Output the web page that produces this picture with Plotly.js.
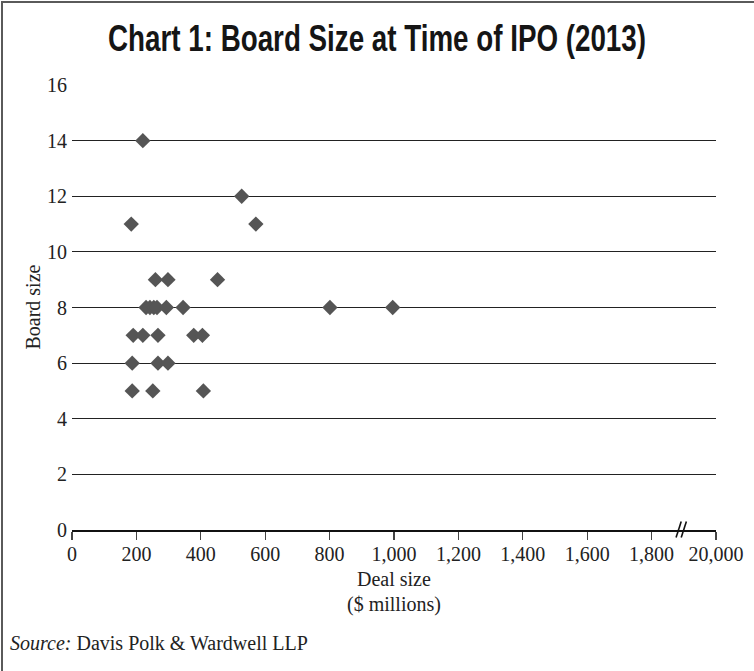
<!DOCTYPE html>
<html>
<head>
<meta charset="utf-8">
<script src="https://cdn.plot.ly/plotly-3.0.1.min.js"></script>
<style>
html,body{margin:0;padding:0;background:#fff;}
#wrap{position:relative;width:754px;height:671px;overflow:hidden;}
#chart{position:absolute;left:0;top:0;width:754px;height:671px;}
#frame{position:absolute;left:1px;top:1px;width:800px;height:700px;border-left:2px solid #5a5a5a;border-top:2px solid #5a5a5a;pointer-events:none;}
</style>
</head>
<body>
<div id="wrap"><div id="chart"></div><div id="frame"></div></div>
<script>
// Deal size ($ millions) and board size for 2013 IPOs
const dealSize = [220, 527, 184, 571, 259, 298, 452, 230, 242, 254, 264, 293, 345, 801, 996, 190, 220, 267, 378, 405, 187, 267, 298, 187, 251, 408];
const boardSize = [14, 12, 11, 11, 9, 9, 9, 8, 8, 8, 8, 8, 8, 8, 8, 7, 7, 7, 7, 7, 6, 6, 6, 5, 5, 5];
const xTickVals = [0, 200, 400, 600, 800, 1000, 1200, 1400, 1600, 1800, 2000];
const xTickText = ['0', '200', '400', '600', '800', '1,000', '1,200', '1,400', '1,600', '1,800', '20,000'];
const yTickVals = [0, 2, 4, 6, 8, 10, 12, 14, 16];
const breakAt = 1898;

const serif = 'Liberation Serif, Times New Roman, serif';

const trace = {
  type: 'scatter', mode: 'markers',
  x: dealSize, y: boardSize,
  marker: {symbol: 'diamond', size: 11.8, color: '#555555', line: {width: 0}},
  cliponaxis: false, hoverinfo: 'skip'
};

const layout = {
  width: 754, height: 671,
  margin: {l: 72, r: 38, t: 85, b: 141},
  paper_bgcolor: '#ffffff', plot_bgcolor: '#ffffff',
  showlegend: false,
  font: {family: serif, size: 20, color: '#222'},
  title: {
    text: 'Chart 1: Board Size at Time of IPO (2013)',
    font: {family: 'Liberation Sans, Arial, sans-serif', size: 36, weight: 'bold', color: '#151515'},
    x: 0.5, xanchor: 'center', y: 0.943, yanchor: 'middle'
  },
  xaxis: {
    range: [0, 2000], tickmode: 'array', tickvals: xTickVals, ticktext: xTickText,
    showgrid: false, zeroline: false,
    showline: true, linecolor: '#111', linewidth: 2.2,
    ticks: 'outside', ticklen: 8, tickwidth: 1.3, tickcolor: '#444',
    ticklabelstandoff: -3,
    tickfont: {family: serif, size: 20, color: '#222'},
    fixedrange: true
  },
  yaxis: {
    range: [0, 16], tickmode: 'array', tickvals: yTickVals,
    showgrid: true, gridcolor: '#222', gridwidth: 1.2,
    zeroline: false, showline: false, ticks: '',
    ticklabelstandoff: 4,
    tickfont: {family: serif, size: 20, color: '#222'},
    fixedrange: true
  },
  shapes: [
    {type: 'line', xref: 'x', yref: 'paper', x0: breakAt - 22, x1: breakAt - 6, y0: -0.017, y1: 0.019, line: {color: '#111', width: 1.6}},
    {type: 'line', xref: 'x', yref: 'paper', x0: breakAt - 6, x1: breakAt + 10, y0: -0.017, y1: 0.019, line: {color: '#111', width: 1.6}}
  ],
  annotations: [
    {text: 'Deal size', xref: 'paper', yref: 'paper', x: 0.5, y: -0.11, xanchor: 'center', yanchor: 'middle', showarrow: false, font: {family: serif, size: 20, color: '#222'}},
    {text: '($ millions)', xref: 'paper', yref: 'paper', x: 0.5, y: -0.168, xanchor: 'center', yanchor: 'middle', showarrow: false, font: {family: serif, size: 20, color: '#222'}},
    {text: 'Board size', xref: 'paper', yref: 'paper', x: -0.062, y: 0.5, xanchor: 'center', yanchor: 'middle', textangle: -90, showarrow: false, font: {family: serif, size: 20, color: '#222'}},
    {text: '<i>Source:</i> Davis Polk & Wardwell LLP', xref: 'paper', yref: 'paper', x: -0.0994, y: -0.254, xanchor: 'left', yanchor: 'middle', showarrow: false, font: {family: serif, size: 20, color: '#222'}}
  ]
};

Plotly.newPlot('chart', [trace], layout, {staticPlot: true, displayModeBar: false}).then(function () {
  // condensed look for the title (no condensed font installed)
  const t = document.querySelector('#chart .gtitle');
  if (t) {
    t.setAttribute('textLength', '538');
    t.setAttribute('lengthAdjust', 'spacingAndGlyphs');
  }
});
</script>
</body>
</html>
